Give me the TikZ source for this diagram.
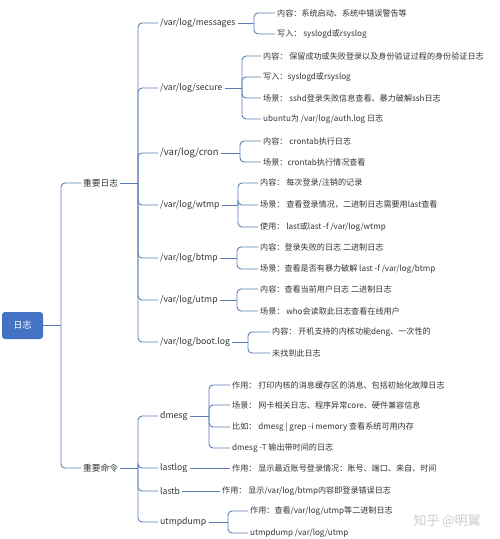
\documentclass[tikz,border=0pt]{standalone}
\usepackage{fontspec}
\newfontfamily\cjk{Noto Sans CJK SC}
\definecolor{linkblue}{HTML}{5A7DB5}
\definecolor{rootblue}{HTML}{4472C4}
\definecolor{textgray}{HTML}{333333}
\tikzset{
  conn/.style={draw=linkblue, line width=0.9pt, rounded corners=4pt},
  root/.style={fill=rootblue, rounded corners=3pt, minimum width=41pt, minimum height=27pt,
    text=white, font=\cjk\fontsize{9}{11}\selectfont},
  topic/.style={anchor=west, inner sep=2pt, text=textgray, font=\cjk\fontsize{8.7}{10}\selectfont},
  leaf/.style={anchor=west, inner sep=2pt, text=textgray, font=\cjk\fontsize{8.1}{9}\selectfont},
}
\newcommand{\branch}[2]{\draw[conn] (#1) |- (#2.west);}
\begin{document}
\begin{tikzpicture}[x=1pt, y=-1pt]
    \useasboundingbox (0,0) rectangle (500,539);

    % Root and first level
    \node[root] (root) at (22.5,325.5) {日志};
    \node[topic] (implog) at (81,183) {重要日志};
    \node[topic] (impcmd) at (81,468) {重要命令};
    \coordinate (rootb) at (61,325.5);
    \draw[conn] (root.east) -- (rootb);
    \branch{rootb}{implog}
    \branch{rootb}{impcmd}

    % Log files
    \node[topic] (msg) at (158,23) {/var/log/messages};
    \node[topic] (sec) at (158,88) {/var/log/secure};
    \node[topic, font=\cjk\fontsize{9.5}{11}\selectfont] (cron) at (158,153) {/var/log/cron};
    \node[topic] (wtmp) at (158,205) {/var/log/wtmp};
    \node[topic] (btmp) at (158,258) {/var/log/btmp};
    \node[topic] (utmp) at (158,300) {/var/log/utmp};
    \node[topic] (boot) at (158,342) {/var/log/boot.log};
    \coordinate (logb) at (138,183);
    \draw[conn] (implog.east) -- (logb);
    \foreach \n in {msg, sec, cron, wtmp, btmp, utmp, boot} {
        \branch{logb}{\n}
    }

    % Commands
    \node[topic] (dmesg) at (158,416) {dmesg};
    \node[topic] (lastlog) at (158,468) {lastlog};
    \node[topic] (lastb) at (158,491) {lastb};
    \node[topic] (udump) at (158,522) {utmpdump};
    \coordinate (cmdb) at (138,468);
    \draw[conn] (impcmd.east) -- (cmdb);
    \foreach \n in {dmesg, lastlog, lastb, udump} {
        \branch{cmdb}{\n}
    }

    % messages
    \node[leaf] (msg1) at (275,13) {内容：系统启动、系统中错误警告等};
    \node[leaf] (msg2) at (275,34) {写入： syslogd或rsyslog};
    \coordinate (msgb) at (254,23);
    \draw[conn] (msg.east) -- (msgb);
    \branch{msgb}{msg1}
    \branch{msgb}{msg2}

    % secure
    \node[leaf] (sec1) at (261,56) {内容： 保留成功或失败登录以及身份验证过程的身份验证日志};
    \node[leaf] (sec2) at (261,77) {写入：syslogd或rsyslog};
    \node[leaf] (sec3) at (261,98) {场景： sshd登录失败信息查看、暴力破解ssh日志};
    \node[leaf] (sec4) at (261,119) {ubuntu为 /var/log/auth.log 日志};
    \coordinate (secb) at (242,88);
    \draw[conn] (sec.east) -- (secb);
    \foreach \n in {sec1, sec2, sec3, sec4} {
        \branch{secb}{\n}
    }

    % cron
    \node[leaf] (cron1) at (261,141) {内容： crontab执行日志};
    \node[leaf] (cron2) at (261,162) {场景：crontab执行情况查看};
    \coordinate (cronb) at (240,153);
    \draw[conn] (cron.east) -- (cronb);
    \branch{cronb}{cron1}
    \branch{cronb}{cron2}

    % wtmp
    \node[leaf] (wtmp1) at (258,183) {内容： 每次登录/注销的记录};
    \node[leaf] (wtmp2) at (258,205) {场景： 查看登录情况，二进制日志需要用last查看};
    \node[leaf] (wtmp3) at (258,227) {使用： last或last -f /var/log/wtmp};
    \coordinate (wtmpb) at (238,205);
    \draw[conn] (wtmp.east) -- (wtmpb);
    \foreach \n in {wtmp1, wtmp2, wtmp3} {
        \branch{wtmpb}{\n}
    }

    % btmp
    \node[leaf] (btmp1) at (258,247) {内容：登录失败的日志 二进制日志};
    \node[leaf] (btmp2) at (258,269) {场景：查看是否有暴力破解 last -f /var/log/btmp};
    \coordinate (btmpb) at (237,258);
    \draw[conn] (btmp.east) -- (btmpb);
    \branch{btmpb}{btmp1}
    \branch{btmpb}{btmp2}

    % utmp
    \node[leaf] (utmp1) at (258,289) {内容：查看当前用户日志 二进制日志};
    \node[leaf] (utmp2) at (258,311) {场景： who会读取此日志查看在线用户};
    \coordinate (utmpb) at (237,300);
    \draw[conn] (utmp.east) -- (utmpb);
    \branch{utmpb}{utmp1}
    \branch{utmpb}{utmp2}

    % boot.log
    \node[leaf] (boot1) at (270,332) {内容： 开机支持的内核功能deng、一次性的};
    \node[leaf] (boot2) at (270,353) {未找到此日志};
    \coordinate (bootb) at (248,342);
    \draw[conn] (boot.east) -- (bootb);
    \branch{bootb}{boot1}
    \branch{bootb}{boot2}

    % dmesg
    \node[leaf] (dmesg1) at (230,385) {作用： 打印内核的消息缓存区的消息、包括初始化故障日志};
    \node[leaf] (dmesg2) at (230,405) {场景： 网卡相关日志、程序异常core、硬件兼容信息};
    \node[leaf] (dmesg3) at (230,427) {比如： dmesg | grep -i memory 查看系统可用内存};
    \node[leaf] (dmesg4) at (230,448) {dmesg -T 输出带时间的日志};
    \coordinate (dmesgb) at (209,416);
    \draw[conn] (dmesg.east) -- (dmesgb);
    \foreach \n in {dmesg1, dmesg2, dmesg3, dmesg4} {
        \branch{dmesgb}{\n}
    }

    % lastlog, lastb
    \node[leaf] (lastlog1) at (230,468) {作用： 显示最近账号登录情况：账号、端口、来自、时间};
    \draw[conn] (lastlog) -- (lastlog1);
    \node[leaf] (lastb1) at (220,491) {作用： 显示/var/log/btmp内容即登录错误日志};
    \draw[conn] (lastb) -- (lastb1);

    % utmpdump
    \node[leaf] (udump1) at (248,511) {作用：查看/var/log/utmp等二进制日志};
    \node[leaf] (udump2) at (248,533) {utmpdump /var/log/utmp};
    \coordinate (udumpb) at (228,522);
    \draw[conn] (udump.east) -- (udumpb);
    \branch{udumpb}{udump1}
    \branch{udumpb}{udump2}

    % Watermark
    \node[anchor=west, text=gray!40, font=\cjk\fontsize{13}{15}\selectfont] (mark) at (410,521) {知乎 @明翼};
\end{tikzpicture}
\end{document}
